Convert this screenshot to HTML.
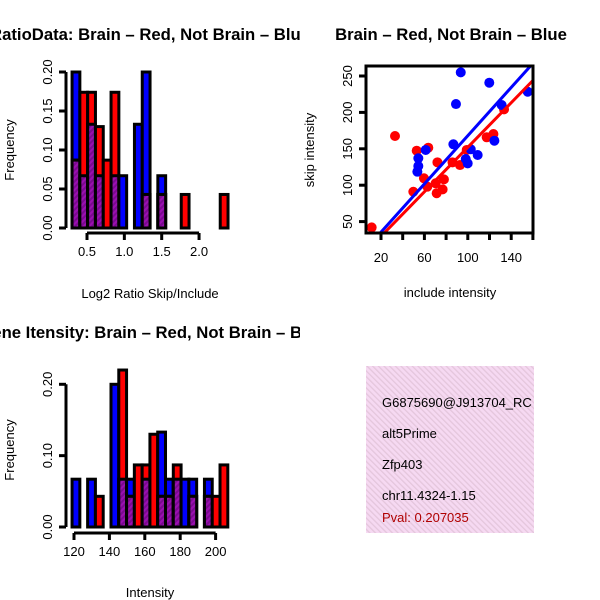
<!DOCTYPE html>
<html><head><meta charset="utf-8"><style>
body{margin:0;background:#fff}
svg{display:block;font-family:"Liberation Sans",sans-serif}
</style></head><body>
<svg id="c" width="600" height="600" viewBox="0 0 600 600">
<defs>
<pattern id="hp" patternUnits="userSpaceOnUse" width="4" height="4" patternTransform="rotate(45)">
<rect width="4" height="4" fill="#9a10b0"/><rect width="2" height="4" fill="#7a0a90"/></pattern>
<pattern id="pk" patternUnits="userSpaceOnUse" width="4" height="4" patternTransform="rotate(-45)">
<rect width="4" height="4" fill="#f6d9f2"/><rect width="1.3" height="4" fill="#e4c6dc"/></pattern>
<clipPath id="sc"><rect x="366" y="66" width="167" height="167"/></clipPath>
<clipPath id="p1"><rect x="0" y="0" width="300" height="300"/></clipPath>
<clipPath id="p3"><rect x="0" y="300" width="300" height="300"/></clipPath>
</defs>
<text clip-path="url(#p1)" x="150" y="40" font-size="16.7" font-weight="bold" text-anchor="middle">RatioData: Brain – Red, Not Brain – Blue</text>
<text x="451" y="40" font-size="16.7" font-weight="bold" text-anchor="middle">Brain – Red, Not Brain – Blue</text>
<text clip-path="url(#p3)" x="130" y="338" font-size="16.7" font-weight="bold" text-anchor="middle">Exon/Gene Itensity: Brain – Red, Not Brain – Blue</text>
<g id="g1"></g>
<g id="g2"></g>
<g id="g3"></g>
<g>
<rect x="366" y="366" width="168" height="167" fill="url(#pk)"/>
<text x="382" y="407" font-size="13">G6875690@J913704_RC</text>
<text x="382" y="438" font-size="13">alt5Prime</text>
<text x="382" y="469" font-size="13">Zfp403</text>
<text x="382" y="500" font-size="13">chr11.4324-1.15</text>
<text x="382" y="522" font-size="13" fill="#b00000">Pval: 0.207035</text>
</g>
<rect x="534" y="360" width="66" height="180" fill="#fff"/>
</svg>
<script>
const NS="http://www.w3.org/2000/svg";
// ratio histogram data
const ratioStart=0.3, ratioWidth=0.1044;
const ratioBlue=[0.2,0.067,0.133,0.067,0,0.067,0.067,0,0.133,0.2,0,0.067,0,0,0,0,0,0,0,0];
const ratioRed=[0.087,0.174,0.174,0.13,0.087,0.174,0,0,0,0.043,0,0.043,0,0,0.043,0,0,0,0,0.043];
const ratioXTicks=[0.5,1.0,1.5,2.0];
const ratioXLabels=["0.5","1.0","1.5","2.0"];
const ratioYTicks=[0,0.05,0.1,0.15,0.2];
const ratioYLabels=["0.00","0.05","0.10","0.15","0.20"];
// intensity histogram data
const intStart=118.9, intWidth=4.4;
const intBlue=[0.067,0,0.067,0,0,0.2,0.067,0.067,0,0.067,0,0.133,0.067,0.067,0.067,0.067,0,0.067,0,0];
const intRed=[0,0,0,0.043,0,0,0.22,0.043,0.087,0.087,0.13,0.043,0.043,0.087,0,0.043,0,0.043,0.043,0.087];
const intXTicks=[120,140,160,180,200];
const intYTicks=[0,0.1,0.2];
const intYLabels=["0.00","0.10","0.20"];
// scatter data
const redInc=[11.4,32.9,52.9,63.6,49.8,59.6,62.7,71.3,72,70.4,76.8,78,85.9,92.8,99,117.4,123.6,133.4];
const redSkip=[42,167.6,147.4,151.5,91,109.5,98,89,131.4,102.6,94.3,108,131.4,127.7,148.4,165.8,170.3,204.2];
const blueInc=[93.5,89.1,119.8,131.2,155.2,124.5,86.7,61.2,54.4,54.4,53.5,98.1,99.9,109.1,102.7];
const blueSkip=[255,211.5,240.8,210.2,228.4,161.1,156.2,148.4,137,126.4,118.6,136,130,141.5,149.3];
const redFit=[-0.8,1.529];
const blueFit=[2.4,1.656];
const scXTicks=[20,40,60,80,100,120,140,160];
const scXLabels=["20","","60","","100","","140",""];
const scYTicks=[50,100,150,200,250];

function mk(p,t,a,txt){const e=document.createElementNS(NS,t);for(const k in a)e.setAttribute(k,a[k]);if(txt!==undefined)e.textContent=txt;p.appendChild(e);return e;}

function hist(g,start,w,blue,red,xs,ys,xt,xl,yt,yl,xAxisY,yAxisX){
  const n=blue.length;
  for(let i=0;i<n;i++){
    const x0=xs(start+i*w),x1=xs(start+(i+1)*w);
    const b=blue[i],r=red[i];
    if(b>0){const e=mk(g,'rect',{x:x0,y:ys(b),width:x1-x0,height:ys(0)-ys(b),fill:'#0000ff',stroke:'#000','stroke-width':3});
      
      }
    if(r>0){const e=mk(g,'rect',{x:x0,y:ys(r),width:x1-x0,height:ys(0)-ys(r),fill:'#ff0000',stroke:'#000','stroke-width':3});
      
      }
    const m=Math.min(b,r);
    if(m>0){const e=mk(g,'rect',{x:x0,y:ys(m),width:x1-x0,height:ys(0)-ys(m),fill:'url(#hp)',stroke:'#000','stroke-width':3});
      
      }
  }
  mk(g,'line',{x1:xs(xt[0]),x2:xs(xt[xt.length-1]),y1:xAxisY,y2:xAxisY,stroke:'#000','stroke-width':3});
  xt.forEach((v,i)=>{mk(g,'line',{x1:xs(v),x2:xs(v),y1:xAxisY,y2:xAxisY+7,stroke:'#000','stroke-width':3});
    const t=mk(g,'text',{x:xs(v),y:xAxisY+23,'font-size':13,'text-anchor':'middle'},xl[i]);
    
    });
  mk(g,'line',{x1:yAxisX,x2:yAxisX,y1:ys(yt[0]),y2:ys(yt[yt.length-1]),stroke:'#000','stroke-width':3});
  yt.forEach((v,i)=>{mk(g,'line',{x1:yAxisX-7,x2:yAxisX,y1:ys(v),y2:ys(v),stroke:'#000','stroke-width':3});
    const t=mk(g,'text',{x:yAxisX-14,y:ys(v),'font-size':13,'text-anchor':'middle',transform:`rotate(-90 ${yAxisX-14} ${ys(v)})`},yl[i]);
    
    });
}

// plot 1
const g1=document.getElementById('g1');
const xs1=v=>87+(v-0.5)*74.7, ys1=v=>228-v*780;
hist(g1,ratioStart,ratioWidth,ratioBlue,ratioRed,xs1,ys1,ratioXTicks,ratioXLabels,ratioYTicks,ratioYLabels,233,66);
let t=mk(g1,'text',{x:150,y:298,'font-size':13,'text-anchor':'middle'},'Log2 Ratio Skip/Include');


t=mk(g1,'text',{x:14,y:150,'font-size':13,'text-anchor':'middle',transform:'rotate(-90 14 150)'},'Frequency');



// plot 3
const g3=document.getElementById('g3');
const xs3=v=>74+(v-120)*1.77, ys3=v=>527-v*713.5;
hist(g3,intStart,intWidth,intBlue,intRed,xs3,ys3,intXTicks,intXTicks.map(String),intYTicks,intYLabels,533,66);
t=mk(g3,'text',{x:150,y:597,'font-size':13,'text-anchor':'middle'},'Intensity');


t=mk(g3,'text',{x:14,y:450,'font-size':13,'text-anchor':'middle',transform:'rotate(-90 14 450)'},'Frequency');



// plot 2 scatter
const g2=document.getElementById('g2');
const xs2=v=>381+(v-20)*1.085, ys2=v=>76+(250-v)*0.728;
const cg=mk(g2,'g',{'clip-path':'url(#sc)'});
redInc.forEach((v,i)=>{const c=mk(cg,'circle',{cx:xs2(v),cy:ys2(redSkip[i]),r:5,fill:'#ff0000'});
  
  });
blueInc.forEach((v,i)=>{const c=mk(cg,'circle',{cx:xs2(v),cy:ys2(blueSkip[i]),r:5,fill:'#0000ff'});
  
  });
let l=mk(cg,'line',{x1:xs2(0),y1:ys2(blueFit[0]),x2:xs2(170),y2:ys2(blueFit[0]+blueFit[1]*170),stroke:'#0000ff','stroke-width':3});


l=mk(cg,'line',{x1:xs2(0),y1:ys2(redFit[0]),x2:xs2(170),y2:ys2(redFit[0]+redFit[1]*170),stroke:'#ff0000','stroke-width':3});


mk(g2,'rect',{x:366,y:66,width:167,height:167,fill:'none',stroke:'#000','stroke-width':3});
scXTicks.forEach((v,i)=>{mk(g2,'line',{x1:xs2(v),x2:xs2(v),y1:233,y2:240,stroke:'#000','stroke-width':3});
  if(scXLabels[i]){const tt=mk(g2,'text',{x:xs2(v),y:262,'font-size':13,'text-anchor':'middle'},scXLabels[i]);
  
  }});
scYTicks.forEach(v=>{mk(g2,'line',{x1:359,x2:366,y1:ys2(v),y2:ys2(v),stroke:'#000','stroke-width':3});
  const tt=mk(g2,'text',{x:352,y:ys2(v),'font-size':13,'text-anchor':'middle',transform:`rotate(-90 352 ${ys2(v)})`},String(v));
  
  });
t=mk(g2,'text',{x:450,y:297,'font-size':13,'text-anchor':'middle'},'include intensity');


t=mk(g2,'text',{x:314,y:150,'font-size':13,'text-anchor':'middle',transform:'rotate(-90 314 150)'},'skip intensity');


</script>
</body></html>
